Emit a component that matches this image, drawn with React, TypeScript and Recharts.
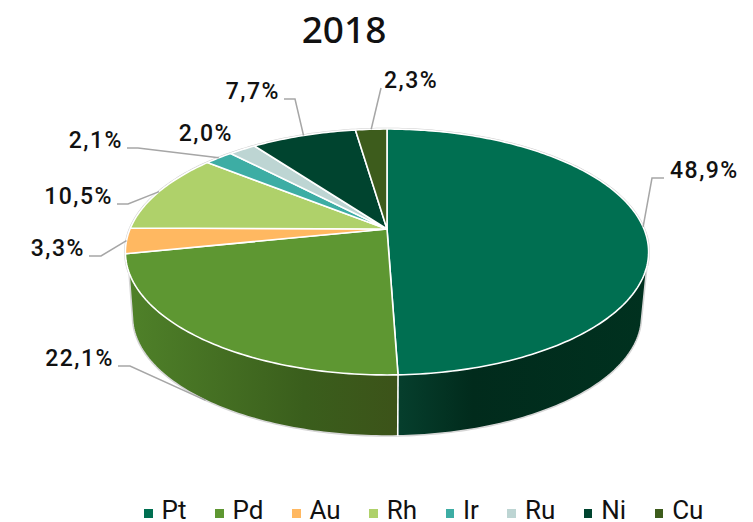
import React from "react";
import { PieChart, Pie, Legend } from "recharts";

const TITLE = "2018";
const metals = ["Pt", "Pd", "Au", "Rh", "Ir", "Ru", "Ni", "Cu"];
const shares = [48.9, 22.1, 3.3, 10.5, 2.1, 2.0, 7.7, 2.3];
const shareLabels = ["48,9%", "22,1%", "3,3%", "10,5%", "2,1%", "2,0%", "7,7%", "2,3%"];
const colors = ["#006f51", "#5e9732", "#ffb861", "#afd16a", "#3dada4", "#bdd5d3", "#00442f", "#3d5c1c"];
const wallStops: Record<string, string[]> = {
  Pt: ["#063f2d", "#012b1c", "#00311f"],
  Pd: ["#4f8129", "#3a5e1c", "#3c5319"],
};

const rows = metals.map((name, i) => ({ name, value: shares[i], fill: colors[i], label: shareLabels[i] }));

// layout of the label elbows in chart pixels: elbow point, stub end, text side
const labelLayout = [
  { ex: 652, ey: 178, sx: 664, anchor: "start", line: true },
  { ex: 130, ey: 366, sx: 118, anchor: "end", line: true },
  { ex: 101, ey: 256, sx: 89, anchor: "end", line: true },
  { ex: 128, ey: 204, sx: 117, anchor: "end", line: true },
  { ex: 138, ey: 148, sx: 127, anchor: "end", line: true },
  { ex: 237, ey: 141, sx: 237, anchor: "end", line: false },
  { ex: 295, ey: 99, sx: 284, anchor: "end", line: true },
  { ex: 381, ey: 88, sx: 381, anchor: "start", line: true },
];

const CX = 387;
const CY = 229;
const R = 257;
const PERSPECTIVE = 0.187;
const SQUASH = 0.4617;
const WALL_SCALE = 0.973;
const WALL_Y = 65;
const FRONT_TO = 258.4;
const UPPER_FROM = 107;
const LOWER_FROM = 103;
const UPPER_TO = 250;

// clockwise degrees from twelve o'clock, on the tilted top plane
function top(theta: number, cx: number, cy: number, r: number) {
  const t = (theta * Math.PI) / 180;
  const w = 1 + PERSPECTIVE * Math.cos(t);
  return [cx + (r * Math.sin(t)) / w, cy - (r * SQUASH * Math.cos(t)) / w];
}
function rim(theta: number, cx: number, cy: number, r: number) {
  const [x, y] = top(theta, cx, cy, r);
  return [cx + (x - cx) * WALL_SCALE, cy + WALL_Y + (y - cy) * WALL_SCALE];
}
function arcPts(fn: typeof top, a: number, b: number, cx: number, cy: number, r: number) {
  const n = Math.max(2, Math.ceil(Math.abs(b - a)));
  const out: number[][] = [];
  for (let i = 0; i <= n; i++) out.push(fn(a + ((b - a) * i) / n, cx, cy, r));
  return out;
}
const d = (pts: number[][]) => pts.map((p, i) => `${i ? "L" : "M"}${p[0].toFixed(2)} ${p[1].toFixed(2)}`).join("");

function TopSlice(props: any) {
  const { cx, cy, outerRadius, startAngle, endAngle, fill } = props;
  const a = 90 - startAngle;
  const b = 90 - endAngle;
  const arc = arcPts(top, a, b, cx, cy, outerRadius);
  const parts: number[][][] = [];
  if (a < UPPER_FROM) parts.push(arcPts(top, a, Math.min(b, UPPER_FROM), cx, cy, outerRadius));
  if (b > UPPER_TO) parts.push(arcPts(top, Math.max(a, UPPER_TO), b, cx, cy, outerRadius));
  return (
    <g>
      {parts.map((p, i) => (
        <path key={i} d={d(p)} fill="none" stroke="#cfcfcf" strokeWidth={2.6} />
      ))}
      <path d={`M${cx} ${cy}${d(arc).replace("M", "L")}Z`} fill={fill} stroke="#ffffff" strokeWidth={1.6} strokeLinejoin="round" />
    </g>
  );
}

function WallSlice(props: any) {
  const { cx, cy, outerRadius, startAngle, endAngle, name } = props;
  const from = 90 - startAngle;
  const to = 90 - endAngle;
  const stops = wallStops[name];
  if (to <= UPPER_FROM || from >= FRONT_TO || !stops) return null;
  const upper = arcPts(top, Math.max(from, UPPER_FROM), Math.min(to, UPPER_TO), cx, cy, outerRadius);
  const lower = arcPts(rim, Math.max(from, LOWER_FROM), Math.min(to, FRONT_TO), cx, cy, outerRadius);
  const id = `wall-${name}`;
  const midStop = name === "Pt" ? 0.3 : 0.65;
  const outline = [upper[0], ...lower];
  return (
    <g>
      <defs>
        <linearGradient id={id} x1="0" y1="0" x2="1" y2="0">
          <stop offset="0" stopColor={stops[0]} />
          <stop offset={midStop} stopColor={stops[1]} />
          <stop offset="1" stopColor={stops[2]} />
        </linearGradient>
      </defs>
      <path d={`${d(upper)}${d([...lower].reverse()).replace("M", "L")}Z`} fill={`url(#${id})`} />
      {name === "Pt" ? (
        <path d={d(outline)} fill="none" stroke="#d6d6d6" strokeWidth={1.6} />
      ) : (
        <>
          <path d={d([...lower, upper[upper.length - 1]])} fill="none" stroke="#d6d6d6" strokeWidth={1.6} />
          <path d={d([upper[0], lower[0]])} fill="none" stroke="#ffffff" strokeWidth={1.6} />
        </>
      )}
    </g>
  );
}

function SliceLabel(props: any) {
  const { cx, cy, outerRadius, midAngle, index } = props;
  const l = labelLayout[index];
  const theta = 90 - midAngle;
  const onRim = theta > UPPER_FROM && theta < FRONT_TO;
  const [ax, ay] = (onRim ? rim : top)(theta, cx, cy, outerRadius);
  const textX = l.anchor === "start" ? l.sx + (l.sx === l.ex ? 3 : 6) : l.sx - 4;
  return (
    <g>
      {l.line ? (
        <path d={`M${ax} ${ay}L${l.ex} ${l.ey}L${l.sx} ${l.ey}`} fill="none" stroke="#a6a6a6" strokeWidth={1.5} />
      ) : null}
      <text x={textX} y={l.ey} textAnchor={l.anchor} fontFamily="Roboto" fontWeight={500} fontSize={23} letterSpacing={1.5} fill="#111111">
        {shareLabels[index]}
      </text>
    </g>
  );
}

function MetalLegend({ payload }: any) {
  const seen = new Set<string>();
  const items = (payload || []).filter((e: any) => {
    if (seen.has(e.value)) return false;
    seen.add(e.value);
    return true;
  });
  return (
    <div style={{ display: "flex", fontFamily: "Roboto", fontSize: 26, color: "#111111", lineHeight: "23px" }}>
      {items.map((e: any) => (
        <div key={e.value} style={{ display: "flex", alignItems: "center", marginRight: 28.5 }}>
          <span style={{ width: 8.5, height: 8.5, background: e.color, marginRight: 9, display: "block", marginTop: 6 }} />
          <span>{e.value}</span>
        </div>
      ))}
    </div>
  );
}

export default function App() {
  return (
    <div style={{ position: "absolute", left: 0, top: 0, width: 753, height: 522, background: "#ffffff", overflow: "hidden" }}>
      <div
        style={{
          position: "absolute",
          left: 244,
          width: 200,
          top: 4,
          textAlign: "center",
          fontFamily: "'Noto Sans'",
          fontWeight: 500,
          fontSize: 37,
          lineHeight: "50px",
          color: "#111111",
        }}
      >
        {TITLE}
      </div>
      <PieChart width={753} height={522} margin={{ top: 0, right: 0, bottom: 0, left: 0 }}>
        <Pie
          data={rows}
          dataKey="value"
          nameKey="name"
          cx={CX}
          cy={CY}
          innerRadius={0}
          outerRadius={R}
          startAngle={90}
          endAngle={-270}
          stroke="none"
          legendType="none"
          isAnimationActive={false}
          shape={WallSlice}
        />
        <Pie
          data={rows}
          dataKey="value"
          nameKey="name"
          cx={CX}
          cy={CY}
          innerRadius={0}
          outerRadius={R}
          startAngle={90}
          endAngle={-270}
          isAnimationActive={false}
          shape={TopSlice}
          label={SliceLabel}
          labelLine={false}
        />
        <Legend
          content={MetalLegend}
          verticalAlign="bottom"
          itemSorter={null}
          wrapperStyle={{ position: "absolute", left: 144, top: 499, bottom: "auto", width: "auto" }}
        />
      </PieChart>
    </div>
  );
}
